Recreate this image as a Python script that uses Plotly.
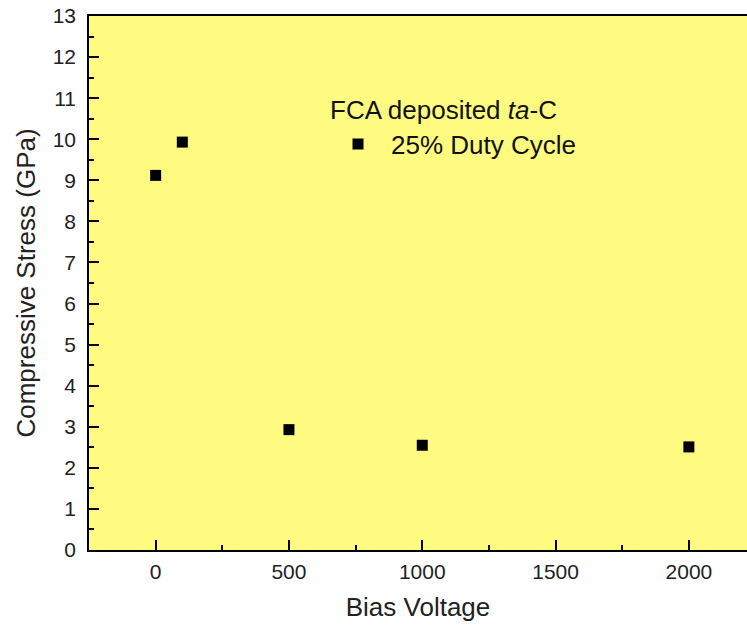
import plotly.graph_objects as go

bias_voltage = [0, 100, 500, 1000, 2000]
stress_gpa = [9.12, 9.93, 2.93, 2.55, 2.51]
series_name = "25% Duty Cycle"
legend_title = "FCA deposited <i>ta</i>-C"
x_label = "Bias Voltage"
y_label = "Compressive Stress (GPa)"

FONT = "Arial, Liberation Sans, Helvetica, sans-serif"

fig = go.Figure()
fig.add_trace(go.Scatter(
    x=bias_voltage, y=stress_gpa, mode="markers", name=series_name,
    marker=dict(symbol="square", size=11, color="black", line=dict(width=0)),
))

axis_common = dict(
    showgrid=False, zeroline=False, showline=True, linecolor="black", linewidth=1.5,
    ticks="inside", ticklen=10, tickwidth=1.5, tickcolor="black",
    tickfont=dict(family=FONT, size=21, color="#222"), automargin=False,
)

fig.update_xaxes(
    **axis_common, range=[-250, 2218], tick0=0, dtick=500, mirror=True,
    minor=dict(ticks="inside", ticklen=5, tickwidth=1.5, tickcolor="black", dtick=250, tick0=0),
    ticklabelstandoff=2,
    title=dict(text=x_label, font=dict(family=FONT, size=26, color="#222"), standoff=16),
)
fig.update_yaxes(
    **axis_common, range=[0, 13], tick0=0, dtick=1,
    minor=dict(ticks="inside", ticklen=5, tickwidth=1.5, tickcolor="black", dtick=0.5, tick0=0),
    ticklabelstandoff=7,
    title=dict(text=y_label, font=dict(family=FONT, size=26, color="#222"), standoff=10),
)

fig.add_annotation(
    text=legend_title, xref="paper", yref="paper", x=(328 - 89) / 658, y=(550 - 110) / 534,
    xanchor="left", yanchor="middle", showarrow=False,
    font=dict(family=FONT, size=26, color="#111"),
)

fig.update_layout(
    width=747, height=630,
    margin=dict(l=89, r=0, t=16, b=80),
    paper_bgcolor="white", plot_bgcolor="#FFFB80",
    showlegend=True,
    legend=dict(
        x=(325 - 89) / 658, y=(550 - 144) / 534, xanchor="left", yanchor="middle",
        bgcolor="rgba(0,0,0,0)", itemwidth=56,
        font=dict(family=FONT, size=26, color="#111"),
    ),
)

fig.write_html(
    "out.html",
    config={"displayModeBar": False},
    post_script="document.body.style.margin='0';document.body.style.overflow='hidden';",
)
